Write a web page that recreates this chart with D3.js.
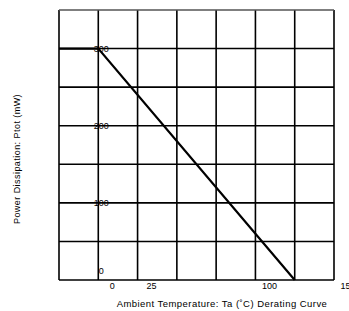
<!DOCTYPE html>
<html><head><meta charset="utf-8">
<script src="https://cdn.jsdelivr.net/npm/d3@7"></script>
<style>body{margin:0;background:#fff}svg{display:block}text{font-family:"Liberation Sans",Arial,sans-serif;fill:#000}</style>
</head><body>
<svg id="c" width="349" height="311"></svg>
<script>
const temps = [-25, 0, 125];
const power = [300, 300, 0];
const xTickLabels = [0, 25, 100, 150];
const yTickLabels = [300, 200, 100, 0];
const xGrid = [-25, 0, 25, 50, 75, 100, 125, 150];
const yGrid = [0, 50, 100, 150, 200, 250, 300, 350];
const xTitle = "Ambient  Temperature: Ta (\u02DAC) Derating  Curve";
const yTitle = "Power Dissipation: Ptot (mW)";

const svg = d3.select("#c");
const x = d3.scaleLinear().domain([-25, 150]).range([59, 334]);
const y = d3.scaleLinear().domain([0, 350]).range([280, 10]);

svg.append("g").selectAll("line").data(xGrid).join("line")
  .attr("x1", d => x(d)).attr("x2", d => x(d)).attr("y1", y(350)).attr("y2", y(0))
  .attr("stroke", "#000").attr("stroke-width", 1.6);
svg.append("g").selectAll("line").data(yGrid).join("line")
  .attr("x1", x(-25)).attr("x2", x(150)).attr("y1", d => y(d)).attr("y2", d => y(d))
  .attr("stroke", d => d === 350 ? "#555" : "#000").attr("stroke-width", 1.6);

const pts = temps.map((t, i) => [t, power[i]]);
svg.append("path").datum(pts)
  .attr("d", d3.line().x(d => x(d[0])).y(d => y(d[1])))
  .attr("fill", "none").attr("stroke", "#000").attr("stroke-width", 2.2);

svg.append("g").selectAll("text").data(yTickLabels).join("text")
  .attr("x", x(0) + 3).attr("y", d => Math.min(y(d), y(0) - 9))
  .attr("text-anchor", "middle").attr("dominant-baseline", "central")
  .attr("font-size", 9).text(d => d);

svg.append("g").selectAll("text").data(xTickLabels).join("text")
  .attr("x", d => x(d) + 14).attr("y", 289)
  .attr("text-anchor", "middle").attr("font-size", 9).text(d => d);

svg.append("text").attr("x", 222).attr("y", 307).attr("text-anchor", "middle")
  .attr("font-size", 9.5).attr("letter-spacing", 0.45).text(xTitle);
svg.append("text").attr("transform", "translate(20,159) rotate(-90)")
  .attr("text-anchor", "middle").attr("font-size", 9).attr("letter-spacing", 0.45).text(yTitle);
</script>
</body></html>
